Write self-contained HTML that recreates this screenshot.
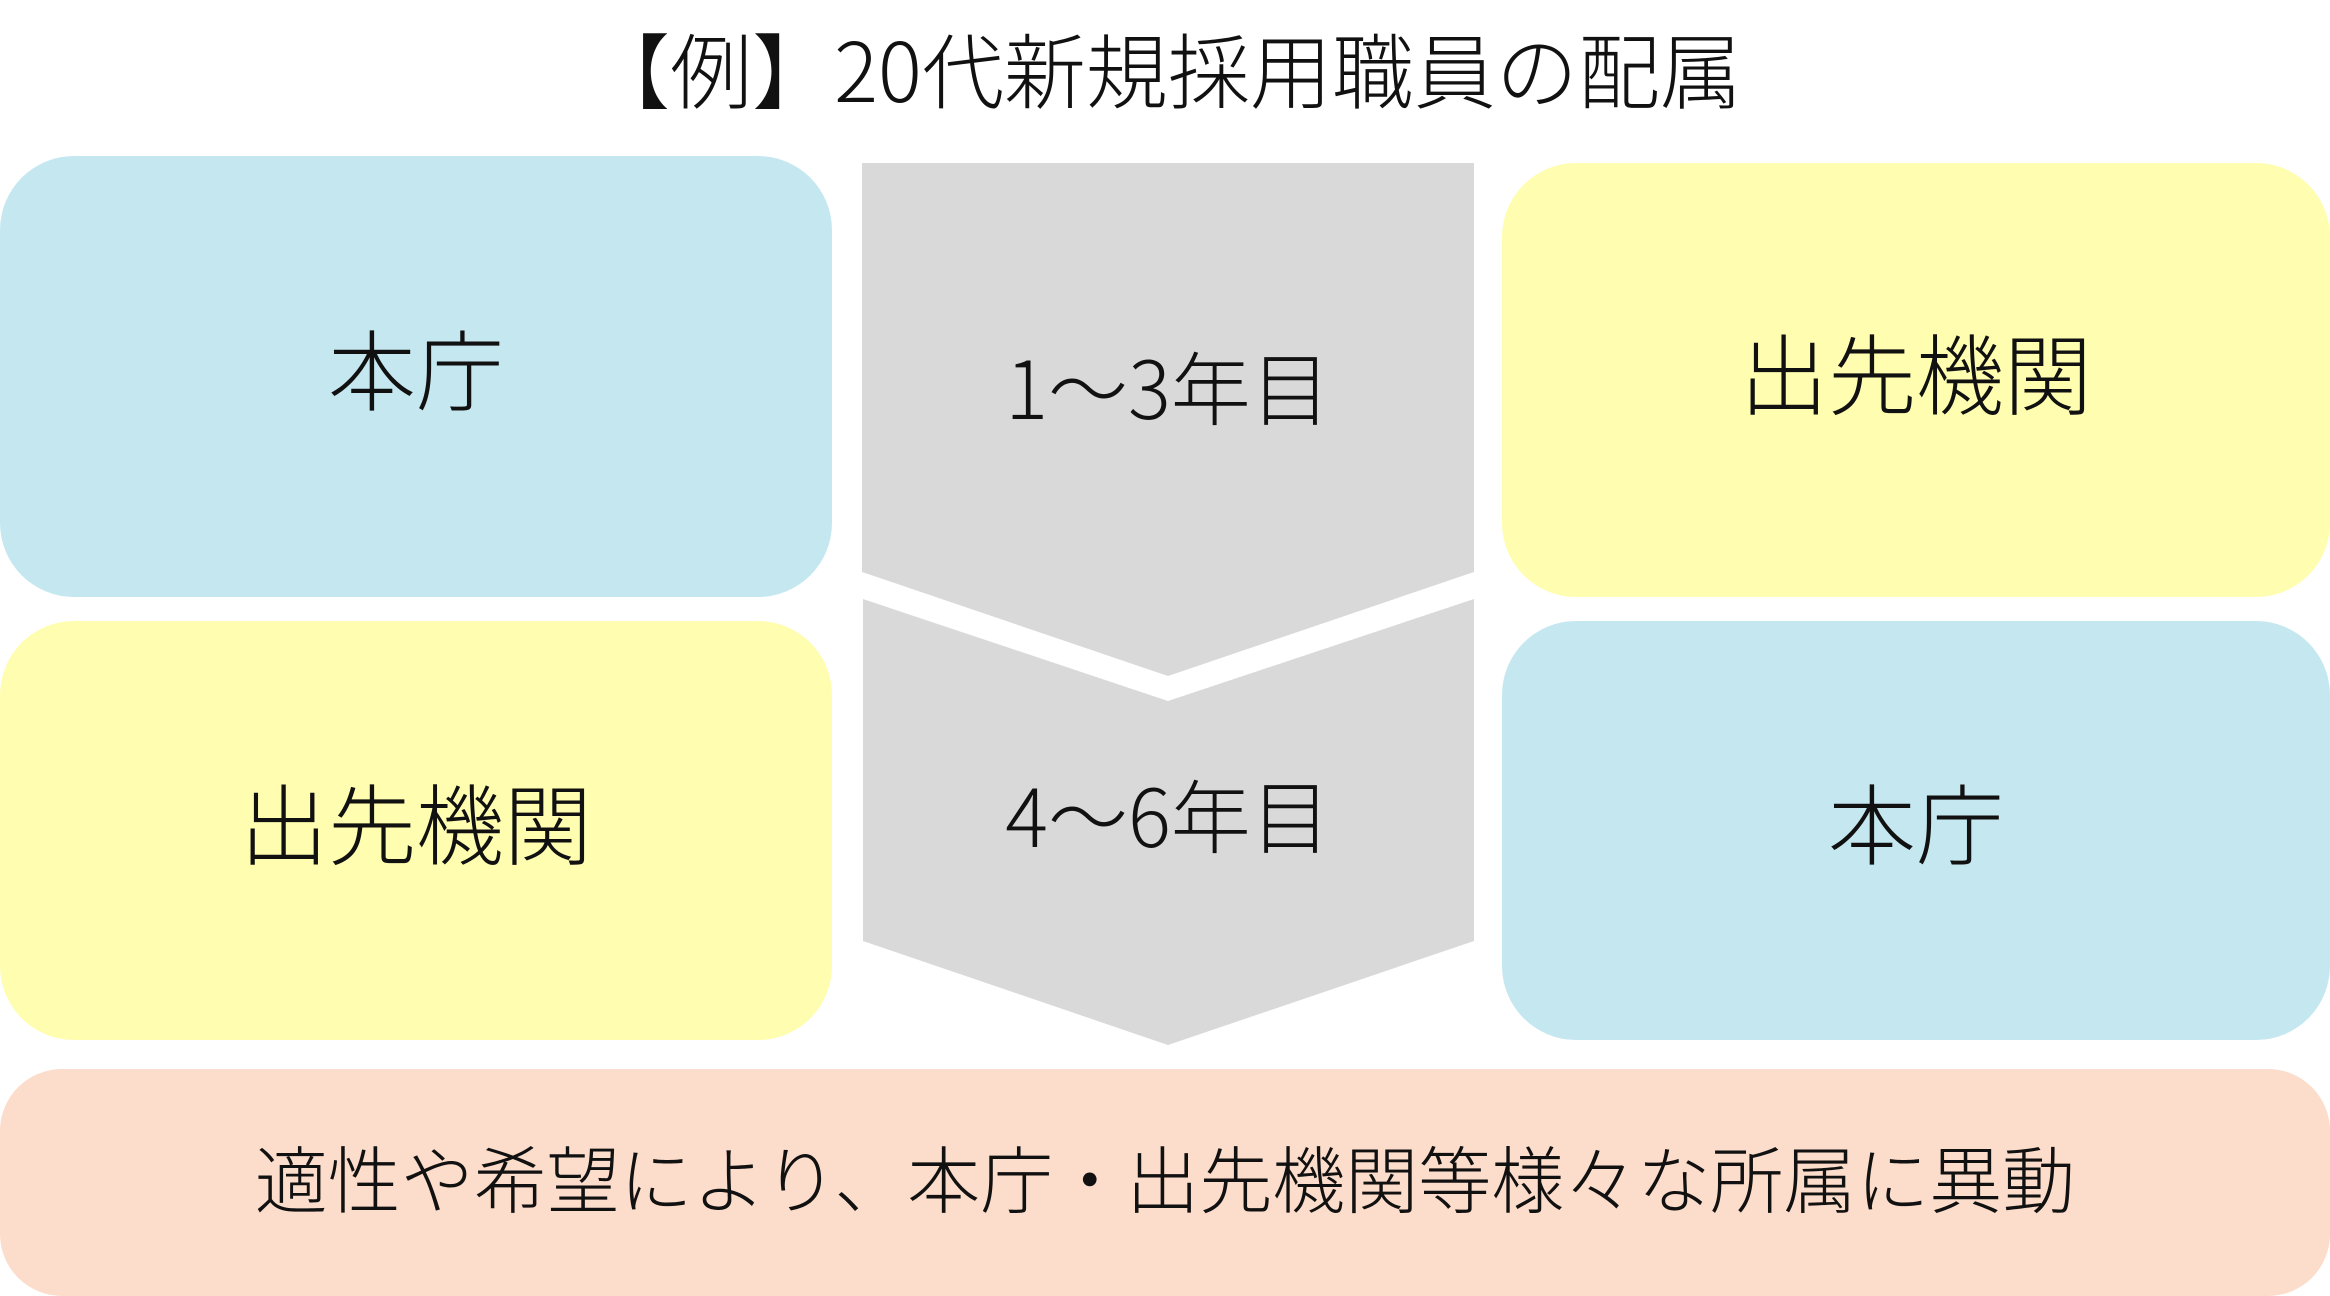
<!DOCTYPE html>
<html><head><meta charset="utf-8"><style>
html,body{margin:0;padding:0;background:#fff;width:2330px;height:1296px;overflow:hidden}
body{position:relative;font-family:"Noto Sans CJK JP","Liberation Sans",sans-serif;color:#111}
.b{position:absolute;border-radius:74px;display:flex;align-items:center;justify-content:center;font-size:88px;font-weight:300;box-sizing:border-box;padding-bottom:20px}
.t{position:absolute;left:0;width:2330px;text-align:center;white-space:nowrap;font-weight:300}
</style></head><body>
<div class="t" style="top:17px;font-size:82px;line-height:100px;">【例】20代新規採用職員の配属</div>
<div class="b" style="left:0;top:156px;width:832px;height:441px;background:#c5e8f0">本庁</div>
<div class="b" style="left:0;top:621px;width:832px;height:419px;background:#fffdb0">出先機関</div>
<div class="b" style="left:1502px;top:163px;width:828px;height:434px;background:#fffdb0">出先機関</div>
<div class="b" style="left:1502px;top:621px;width:828px;height:419px;background:#c5e8f0">本庁</div>
<svg style="position:absolute;left:0;top:0" width="2330" height="1296">
<polygon points="862,163 1474,163 1474,572 1168,676 862,572" fill="#d9d9d9"/>
<polygon points="863,599 1168,701 1474,599 1474,941 1168,1045 863,941" fill="#d9d9d9"/>
</svg>
<div class="t" style="left:868px;width:600px;top:335px;font-size:80px;line-height:100px">1〜3年目</div>
<div class="t" style="left:868px;width:600px;top:763px;font-size:80px;line-height:100px">4〜6年目</div>
<div class="b" style="left:0;top:1069px;width:2330px;height:227px;border-radius:62px;background:#fcdcca;font-size:73px;padding-bottom:14px">
<div style="line-height:100px">適性や希望により、本庁・出先機関等様々な所属に異動</div></div>
</body></html>
